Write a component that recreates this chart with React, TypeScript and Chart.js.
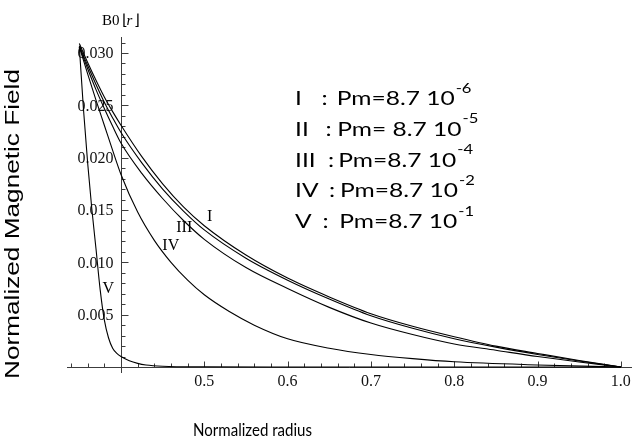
import React, { useEffect, useRef } from 'react';
import { Chart, registerables } from 'chart.js';

Chart.register(...registerables);

// ---- data ----
const R_MAIN = [0.35, 0.36, 0.37, 0.38, 0.39, 0.4, 0.425, 0.45, 0.475, 0.5, 0.55, 0.6, 0.65, 0.7, 0.75, 0.8, 0.85, 0.9, 0.95, 1.0];
const FIELD_I = [0.0309, 0.0291, 0.0274, 0.0258, 0.0244, 0.0231, 0.0201, 0.0175, 0.0153, 0.0135, 0.0107, 0.0085, 0.0067, 0.0051, 0.0039, 0.0029, 0.0020, 0.0013, 0.00062, 0];
const FIELD_II = [0.0307, 0.0288, 0.0270, 0.0253, 0.0238, 0.0224, 0.0195, 0.0170, 0.0149, 0.0131, 0.0104, 0.0083, 0.0065, 0.0049, 0.0037, 0.0027, 0.0019, 0.0012, 0.00057, 0];
const FIELD_III = [0.0306, 0.0285, 0.0265, 0.0247, 0.0230, 0.0214, 0.0185, 0.0161, 0.0140, 0.0122, 0.0095, 0.0075, 0.0057, 0.0042, 0.0031, 0.0022, 0.0016, 0.0010, 0.00048, 0];
const R_IV = [0.35, 0.36, 0.37, 0.38, 0.39, 0.4, 0.42, 0.44, 0.46, 0.48, 0.5, 0.53, 0.56, 0.6, 0.65, 0.7, 0.75, 0.8, 0.9, 1.0];
const FIELD_IV = [0.0306, 0.0280, 0.0255, 0.0231, 0.0207, 0.0184, 0.0148, 0.0121, 0.0100, 0.0083, 0.0069, 0.0053, 0.0040, 0.0027, 0.0018, 0.0012, 0.0008, 0.0005, 0.0002, 0];
const R_V = [0.35, 0.355, 0.36, 0.365, 0.37, 0.375, 0.38, 0.385, 0.39, 0.395, 0.4, 0.41, 0.42, 0.43, 0.45, 0.5, 0.6, 0.8, 1.0];
const FIELD_V = [0.0306, 0.0246, 0.0195, 0.0151, 0.0113, 0.0074, 0.0045, 0.0028, 0.0018, 0.0013, 0.0010, 0.0006, 0.00035, 0.0002, 0.00008, 0.00002, 0, 0, 0];

const X_TICKS = [0.5, 0.6, 0.7, 0.8, 0.9, 1.0];
const X_TICK_LABELS = ['0.5', '0.6', '0.7', '0.8', '0.9', '1.0'];
const Y_TICKS = [0.005, 0.01, 0.015, 0.02, 0.025, 0.03];
const Y_TICK_LABELS = ['0.005', '0.010', '0.015', '0.020', '0.025', '0.030'];

const CURVE_NAMES = ['I', 'II', 'III', 'IV', 'V'];
const PM_TEXTS = ['Pm=8.7 10', 'Pm= 8.7 10', 'Pm=8.7 10', 'Pm=8.7 10', 'Pm=8.7 10'];
const PM_EXPONENTS = ['-6', '-5', '-4', '-2', '-1'];

const LABEL_TEXTS = ['I', 'III', 'IV', 'V'];
const LABEL_R = [0.5065, 0.4759, 0.4598, 0.3848];
const LABEL_B = [0.01436, 0.01333, 0.01163, 0.00745];

const AXIS_ORIGIN_R = 0.4;
const X_MIN = 0.3352;
const X_MAX = 1.0134;
const Y_MIN = -0.00057;
const Y_MAX = 0.03153;

const Y_TITLE = 'Normalized Magnetic Field';
const X_TITLE = 'Normalized radius';

const toPoints = (xs: number[], ys: number[]) => xs.map((x, i) => ({ x, y: ys[i] }));

function drawStretched(ctx: CanvasRenderingContext2D, text: string, x: number, y: number, font: string, sx: number, align: CanvasTextAlign) {
  ctx.save();
  ctx.font = font;
  ctx.textAlign = align;
  ctx.textBaseline = 'alphabetic';
  ctx.translate(x, y);
  ctx.scale(sx, 1);
  ctx.fillText(text, 0, 0);
  ctx.restore();
}

const axesPlugin = {
  id: 'mathAxes',
  beforeDatasetsDraw(chart: any) {
    const { ctx, chartArea, scales } = chart;
    const xs = scales.x;
    const ys = scales.y;
    const x0 = Math.round(xs.getPixelForValue(AXIS_ORIGIN_R)) + 0.5;
    const y0 = Math.round(ys.getPixelForValue(0)) + 0.5;
    ctx.save();
    ctx.strokeStyle = '#3c3c3c';
    ctx.lineWidth = 1;
    ctx.beginPath();
    ctx.moveTo(chartArea.left, y0);
    ctx.lineTo(chartArea.right, y0);
    ctx.moveTo(x0, chartArea.top);
    ctx.lineTo(x0, chartArea.bottom);
    for (let k = 1; k <= 31; k++) {
      const py = Math.round(ys.getPixelForValue(k * 0.001)) + 0.5;
      const len = k % 5 === 0 ? 7 : 4;
      ctx.moveTo(x0, py);
      ctx.lineTo(x0 + len, py);
    }
    for (let k = 17; k <= 50; k++) {
      if (k === 20) continue;
      const px = Math.round(xs.getPixelForValue(k * 0.02)) + 0.5;
      const len = k % 5 === 0 ? 6 : 4;
      ctx.moveTo(px, y0);
      ctx.lineTo(px, y0 - len);
    }
    ctx.stroke();

    // y tick labels, right-aligned 8px left of the vertical axis
    ctx.fillStyle = '#111';
    ctx.font = '16px "Liberation Serif"';
    ctx.textAlign = 'right';
    ctx.textBaseline = 'middle';
    for (let i = 0; i < Y_TICKS.length; i++) {
      ctx.fillText(Y_TICK_LABELS[i], x0 - 8, ys.getPixelForValue(Y_TICKS[i]) + 1);
    }
    ctx.restore();
  },
  afterDraw(chart: any) {
    const { ctx, scales } = chart;
    const xs = scales.x;
    const ys = scales.y;
    ctx.save();
    ctx.fillStyle = '#000';

    // y title (rotated)
    ctx.save();
    ctx.font = '19.5px "Liberation Sans"';
    const wy = ctx.measureText(Y_TITLE).width;
    ctx.translate(19, 224);
    ctx.rotate(-Math.PI / 2);
    ctx.scale(310 / wy, 1);
    ctx.textAlign = 'center';
    ctx.textBaseline = 'alphabetic';
    ctx.fillText(Y_TITLE, 0, 0);
    ctx.restore();

    // x title
    ctx.font = '16.5px Lato';
    const wx = ctx.measureText(X_TITLE).width;
    drawStretched(ctx, X_TITLE, 252.5, 436, '16.5px Lato', 119 / wx, 'center');

    // B0[r] axis label
    ctx.font = '15px "Liberation Serif"';
    ctx.textAlign = 'left';
    ctx.textBaseline = 'alphabetic';
    ctx.fillText('B0', 102, 25);
    ctx.fillText('\u230A', 122, 25);
    ctx.font = 'italic 15px "Liberation Serif"';
    ctx.fillText('r', 126.5, 25);
    ctx.font = '15px "Liberation Serif"';
    ctx.fillText('\u230B', 133.5, 25);

    // legend text block
    const mainFont = '18.5px Lato';
    const supFont = '12.5px Lato';
    ctx.font = mainFont;
    const sx = 118 / ctx.measureText('Pm=8.7 10').width;
    const colonX = [321.5, 325.5, 328, 329, 322.5];
    const pmX = [336.7, 337.3, 338.3, 340, 339.3];
    for (let i = 0; i < CURVE_NAMES.length; i++) {
      const base = 105 + i * 30.8;
      drawStretched(ctx, CURVE_NAMES[i], 295, base, mainFont, sx, 'left');
      drawStretched(ctx, ':', colonX[i], base, mainFont, sx, 'left');
      drawStretched(ctx, PM_TEXTS[i], pmX[i], base, mainFont, sx, 'left');
      ctx.font = mainFont;
      const endX = pmX[i] + ctx.measureText(PM_TEXTS[i]).width * sx;
      drawStretched(ctx, PM_EXPONENTS[i], endX + 1, base - 12.5, supFont, sx, 'left');
    }

    // curve labels
    ctx.font = '16px "Liberation Serif"';
    ctx.textAlign = 'center';
    ctx.textBaseline = 'middle';
    for (let i = 0; i < LABEL_TEXTS.length; i++) {
      ctx.fillText(LABEL_TEXTS[i], xs.getPixelForValue(LABEL_R[i]), ys.getPixelForValue(LABEL_B[i]));
    }
    ctx.restore();
  },
};

export default function App() {
  const canvasRef = useRef<HTMLCanvasElement | null>(null);

  useEffect(() => {
    const canvas = canvasRef.current;
    if (!canvas) return;
    const line = (label: string, xs: number[], ys: number[]) => ({
      label,
      data: toPoints(xs, ys),
      borderColor: '#000',
      backgroundColor: '#000',
      borderWidth: 1.1,
      pointRadius: 0,
      fill: false,
      cubicInterpolationMode: 'monotone' as const,
    });
    const chart = new Chart(canvas, {
      type: 'line',
      data: {
        datasets: [
          line('I', R_MAIN, FIELD_I),
          line('II', R_MAIN, FIELD_II),
          line('III', R_MAIN, FIELD_III),
          line('IV', R_IV, FIELD_IV),
          line('V', R_V, FIELD_V),
        ],
      },
      options: {
        responsive: false,
        animation: false,
        devicePixelRatio: 1,
        layout: { padding: { left: 67, right: 11, top: 37, bottom: 72 } },
        plugins: {
          legend: { display: false },
          tooltip: { enabled: false },
          title: { display: false },
        },
        scales: {
          x: {
            type: 'linear',
            min: X_MIN,
            max: X_MAX,
            position: { y: 0 } as any,
            grid: { display: false, drawTicks: false },
            border: { display: false },
            afterBuildTicks: (s: any) => {
              s.ticks = X_TICKS.map((v) => ({ value: v }));
            },
            afterFit: (s: any) => {
              s.height = 0;
            },
            ticks: {
              autoSkip: false,
              maxRotation: 0,
              padding: 5,
              color: '#111',
              font: { family: 'Liberation Serif', size: 16 },
              callback: (v: any) => {
                const i = X_TICKS.findIndex((t) => Math.abs(t - Number(v)) < 1e-9);
                return i >= 0 ? X_TICK_LABELS[i] : '';
              },
            },
          },
          y: {
            type: 'linear',
            min: Y_MIN,
            max: Y_MAX,
            position: { x: AXIS_ORIGIN_R } as any,
            grid: { display: false, drawTicks: false },
            border: { display: false },
            afterBuildTicks: (s: any) => {
              s.ticks = Y_TICKS.map((v) => ({ value: v }));
            },
            afterFit: (s: any) => {
              s.width = 0;
            },
            ticks: { display: false },
          },
        },
      },
      plugins: [axesPlugin],
    });
    return () => chart.destroy();
  }, []);

  return (
    <div style={{ position: 'fixed', left: 0, top: 0, width: 643, height: 445, background: '#fff' }}>
      <canvas ref={canvasRef} width={643} height={445} style={{ display: 'block' }} />
    </div>
  );
}
